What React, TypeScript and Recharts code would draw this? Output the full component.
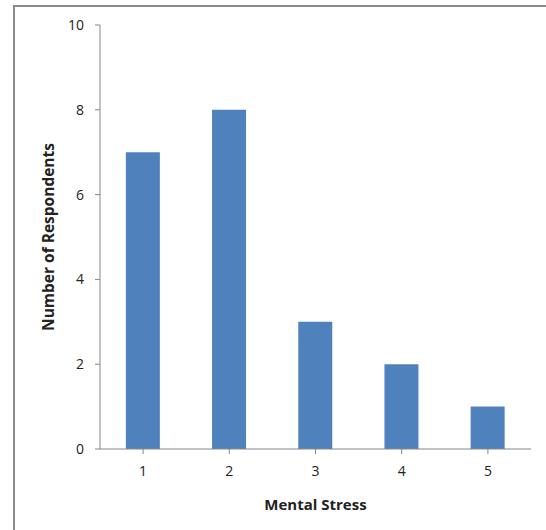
import React from "react";
import { BarChart, Bar, XAxis, YAxis, Label } from "recharts";

const categories = ["1", "2", "3", "4", "5"];
const respondents = [7, 8, 3, 2, 1];
const yTicks = [0, 2, 4, 6, 8, 10];

const data = categories.map((c, i) => ({ stress: c, count: respondents[i] }));

const FONT = "'Open Sans', 'Liberation Sans', sans-serif";

export default function App() {
  return (
    <div style={{ position: "absolute", left: 0, top: 0, width: 546, height: 530, background: "#fff", overflow: "hidden" }}>
      <div
        style={{
          position: "absolute",
          left: 13,
          top: 5,
          width: 560,
          height: 560,
          borderTop: "2px solid #8a8a8a",
          borderLeft: "2px solid #8a8a8a",
          boxSizing: "border-box",
        }}
      />
      <div style={{ position: "absolute", left: 0, top: 0 }}>
        <BarChart
          width={546}
          height={530}
          data={data}
          margin={{ top: 25, right: 15, left: 0, bottom: 0 }}
          barCategoryGap="30%"
        >
          <XAxis
            dataKey="stress"
            height={81}
            stroke="#868686"
            tickSize={5}
            tickMargin={12}
            tick={{ fill: "#222", fontSize: 14, fontFamily: FONT }}
            interval={0}
          >
            <Label
              value="Mental Stress"
              position="insideTop"
              offset={50}
              style={{ fill: "#222", fontSize: 15, fontWeight: 700, fontFamily: FONT }}
            />
          </XAxis>
          <YAxis
            width={100}
            domain={[0, 10]}
            ticks={yTicks}
            interval={0}
            stroke="#868686"
            tickSize={5}
            tickMargin={11}
            tick={{ fill: "#222", fontSize: 14, fontFamily: FONT }}
          >
            <Label
              value="Number of Respondents"
              angle={-90}
              position="insideLeft"
              offset={48}
              style={{ fill: "#222", fontSize: 15.5, fontWeight: 700, fontFamily: FONT, textAnchor: "middle" }}
            />
          </YAxis>
          <Bar dataKey="count" fill="#4F81BD" isAnimationActive={false} />
        </BarChart>
      </div>
    </div>
  );
}
